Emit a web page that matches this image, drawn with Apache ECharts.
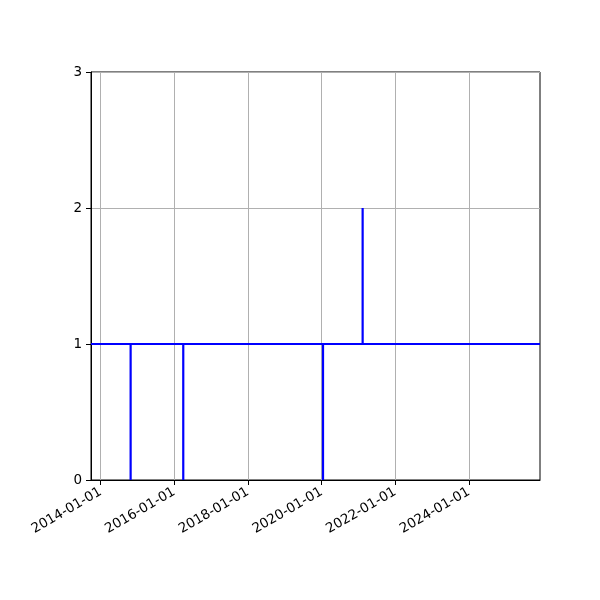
<!DOCTYPE html>
<html><head><meta charset="utf-8">
<script src="https://cdn.jsdelivr.net/npm/echarts@6/dist/echarts.min.js"></script>
<style>html,body{margin:0;padding:0;background:#fff}#c{width:600px;height:600px}</style>
</head><body><div id="c"></div>
<script>
// series: dates and values (events where level changes)
const dates = ['2013-09-27','2014-10-25','2014-10-25','2014-10-25','2016-03-30','2016-03-30','2016-03-30','2020-01-15','2020-01-15','2020-01-15','2021-02-11','2021-02-11','2021-02-11','2025-12-06'];
const values = [1,1,0,1,1,0,1,1,0,1,1,2,1,1];
const xTicks = ['2014-01-01','2016-01-01','2018-01-01','2020-01-01','2022-01-01','2024-01-01'];
const yTicks = [0,1,2,3];
const xRange = ['2013-09-27','2025-12-06'];

function ts(s){const p=s.split('-').map(Number);return Date.UTC(p[0],p[1]-1,p[2]);}
function fmt(v){const d=new Date(v);const p=n=>String(n).padStart(2,'0');return d.getUTCFullYear()+'-'+p(d.getUTCMonth()+1)+'-'+p(d.getUTCDate());}
const tickVals = xTicks.map(ts);
const data = dates.map((d,i)=>[ts(d),values[i]]);
const font = {fontFamily:'DejaVu Sans',fontSize:13.5,color:'#000'};
const chart = echarts.init(document.getElementById('c'),null,{renderer:'canvas'});
chart.setOption({
  animation:false,
  grid:{left:91,right:60,top:72,bottom:120,show:true,borderColor:'#000',borderWidth:1,backgroundColor:'transparent'},
  xAxis:{type:'value',min:ts(xRange[0]),max:ts(xRange[1]),scale:true,
    axisLine:{lineStyle:{color:'#000',width:1}},
    axisTick:{show:true,length:5,lineStyle:{color:'#000'},customValues:tickVals},
    axisLabel:Object.assign({customValues:tickVals,rotate:30,formatter:fmt,margin:11,hideOverlap:false},font),
    splitLine:{show:true,lineStyle:{color:'#b0b0b0',width:1}}
  },
  yAxis:{type:'value',min:yTicks[0],max:yTicks[yTicks.length-1],interval:1,
    axisLine:{show:true,lineStyle:{color:'#000',width:1}},
    axisTick:{show:true,length:5,lineStyle:{color:'#000'}},
    axisLabel:Object.assign({margin:9},font),
    splitLine:{show:true,lineStyle:{color:'#b0b0b0',width:1}}
  },
  series:[{type:'line',data:data,showSymbol:false,symbol:'none',lineStyle:{color:'#0000ff',width:2.2},itemStyle:{color:'#0000ff'},silent:true}]
});
</script></body></html>
